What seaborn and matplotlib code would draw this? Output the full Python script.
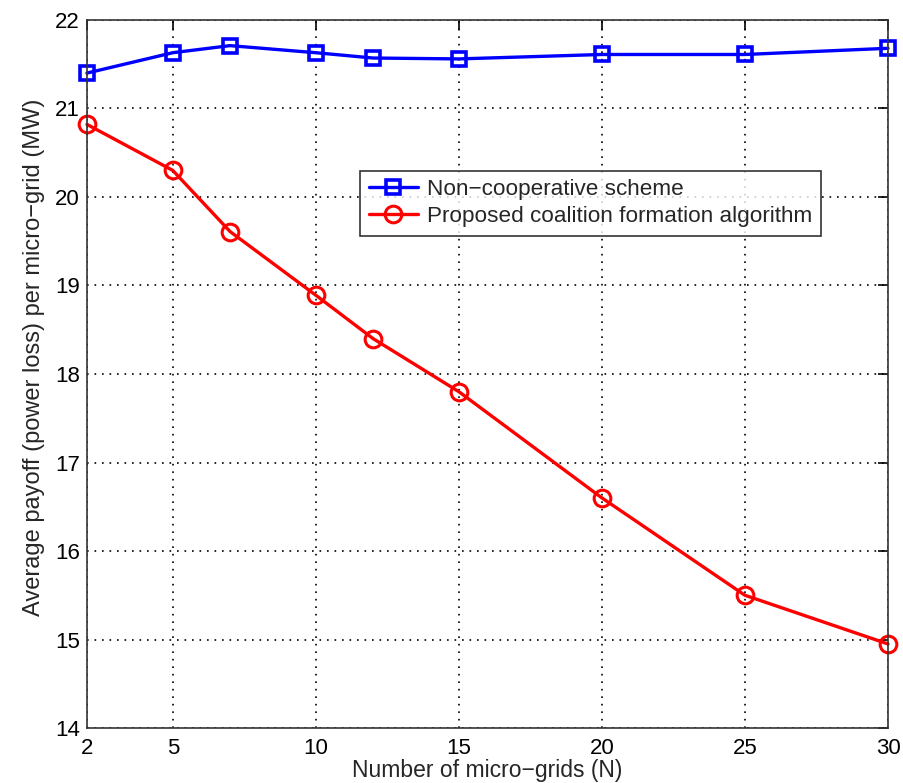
import matplotlib
matplotlib.use("Agg")
import matplotlib.pyplot as plt
import seaborn as sns
import pandas as pd

N = [2, 5, 7, 10, 12, 15, 20, 25, 30]
noncoop = [21.40, 21.63, 21.71, 21.63, 21.57, 21.56, 21.61, 21.61, 21.68]
coalition = [20.82, 20.30, 19.61, 18.89, 18.40, 17.80, 16.60, 15.50, 14.95]
xticks = [2, 5, 10, 15, 20, 25, 30]
yticks = [14, 15, 16, 17, 18, 19, 20, 21, 22]

sns.set_style("white")
plt.rcParams['font.family'] = ['Liberation Sans', 'DejaVu Sans']

fig = plt.figure(figsize=(9.04, 7.83), dpi=100)
ax = fig.add_axes([0.0962, 0.0702, 0.8861, 0.9043])

df1 = pd.DataFrame({"N": N, "v": noncoop})
df2 = pd.DataFrame({"N": N, "v": coalition})
sns.lineplot(data=df1, x="N", y="v", ax=ax, color="#0000ff", linewidth=2.4,
             marker="s", markersize=10, markerfacecolor="none",
             markeredgecolor="#0000ff", markeredgewidth=2.6, clip_on=False,
             label="Non\u2212cooperative scheme")
sns.lineplot(data=df2, x="N", y="v", ax=ax, color="#ff0000", linewidth=2.4,
             marker="o", markersize=12, markerfacecolor="none",
             markeredgecolor="#ff0000", markeredgewidth=2.2, clip_on=False,
             label="Proposed coalition formation algorithm")

ax.set_xlim(2, 30)
ax.set_ylim(14, 22)
ax.set_xticks(xticks)
ax.set_yticks(yticks)
ax.grid(True, color="black", linestyle=(0, (1, 3.5)), linewidth=1.2)
ax.tick_params(direction="in", top=True, right=True, length=7, width=1.2,
               labelsize=16, colors="black")
ax.tick_params(axis="x", pad=7)
ax.tick_params(axis="y", pad=5)
for s in ax.spines.values():
    s.set_visible(True)
    s.set_color("#333333")
    s.set_linewidth(1.2)
ax.set_xlabel("Number of micro\u2212grids (N)", fontsize=16.5, labelpad=0)
ax.set_ylabel("Average payoff (power loss) per micro\u2212grid (MW)", fontsize=17)
ax.yaxis.set_label_coords(-0.052, 0.524)

leg = ax.legend(loc="upper left", bbox_to_anchor=(0.341, 0.787), fontsize=16.2,
                frameon=True, fancybox=False, edgecolor="black",
                handlelength=2.2, borderpad=0.38, labelspacing=0.25,
                handletextpad=0.4, borderaxespad=0)
leg.get_frame().set_linewidth(1.2)

fig.savefig("out.png", dpi=100)
